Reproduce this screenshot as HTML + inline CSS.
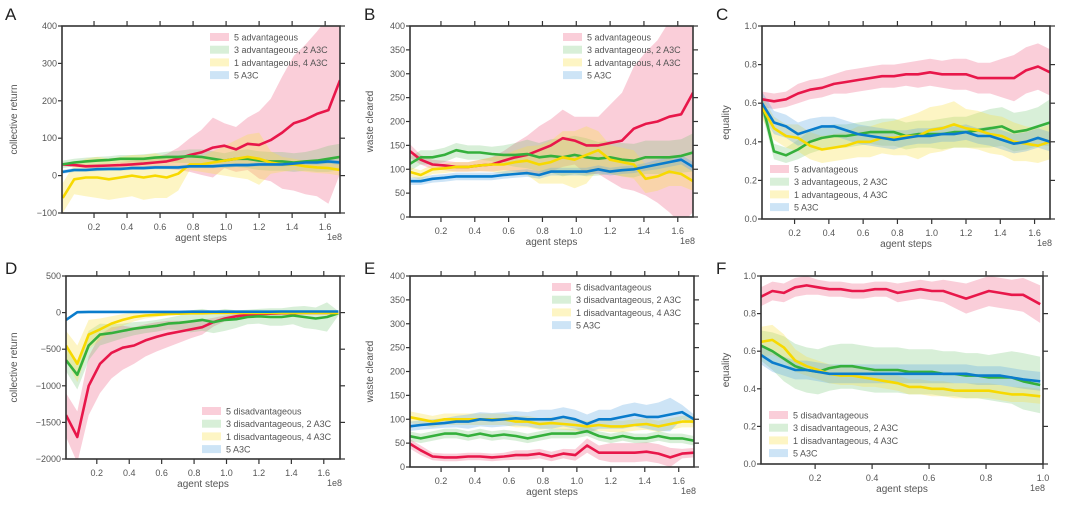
<!DOCTYPE html>
<html><head><meta charset="utf-8">
<style>
body{margin:0;background:#fff;}
svg{display:block;font-family:"Liberation Sans",sans-serif;}
.tk{font-size:9px;fill:#555;}
.lab{font-size:10px;fill:#555;}
.leg{font-size:9px;fill:#555;}
.pl{font-size:17px;fill:#222;}
</style></head><body>
<svg id="fig" width="1080" height="509" viewBox="0 0 1080 509"></svg>
<script>
// ---- data ----
const stepsLong = [0.01,0.08,0.15,0.22,0.29,0.36,0.43,0.50,0.57,0.64,0.71,0.78,0.85,0.92,0.99,1.06,1.13,1.20,1.27,1.34,1.41,1.48,1.55,1.62,1.69];
const stepsShort = [0.01,0.05,0.09,0.13,0.17,0.21,0.25,0.29,0.33,0.37,0.41,0.45,0.49,0.53,0.57,0.61,0.65,0.69,0.73,0.77,0.81,0.85,0.89,0.93,0.99];

const aRed = [30,28,25,26,27,28,30,32,35,38,45,55,62,75,80,70,85,82,95,115,140,150,165,175,255];
const aRedSd = [5,5,5,5,6,8,10,12,15,20,30,45,60,80,60,60,70,90,110,150,180,200,220,250,250];
const aGreen = [30,35,38,40,42,45,45,45,48,50,50,52,50,45,40,45,45,40,38,38,35,38,40,45,50];
const aGreenSd = [10,10,10,10,10,10,10,12,12,14,16,18,20,20,20,22,25,25,25,25,25,25,30,35,35];
const aYellow = [-60,-10,-5,-5,-10,-5,0,-5,0,-5,5,30,30,35,40,45,50,45,35,30,30,25,22,20,15];
const aYellowSd = [40,40,50,55,55,55,55,60,60,55,45,15,20,30,40,50,60,70,30,20,15,15,15,15,15];
const aBlue = [10,15,15,17,18,18,20,20,22,22,22,25,25,25,27,28,28,30,30,30,32,35,35,38,35];
const aBlueSd = [5,5,5,5,5,5,5,5,5,5,5,5,5,5,5,5,5,5,5,5,6,6,6,6,6];

const bRed = [140,120,110,108,105,105,108,110,118,125,130,140,150,165,160,150,150,155,160,185,195,200,210,215,260];
const bRedSd = [15,10,10,10,10,10,12,15,20,30,40,50,55,60,50,60,60,80,100,130,150,170,200,230,250];
const bGreen = [110,125,125,130,140,135,135,132,130,130,132,125,128,125,130,125,122,125,120,118,125,125,125,128,135];
const bGreenSd = [15,15,15,15,15,15,15,15,20,25,30,30,35,40,40,40,35,35,35,35,35,35,35,35,40];
const bYellow = [95,88,100,102,105,105,108,110,110,115,118,110,115,125,120,130,140,120,115,110,80,85,95,90,75];
const bYellowSd = [10,10,10,10,10,10,12,15,20,25,30,40,45,55,60,60,40,30,30,30,30,30,30,25,20];
const bBlue = [75,75,80,82,85,85,85,85,88,90,92,88,95,95,95,95,100,95,98,100,105,110,115,120,105];
const bBlueSd = [8,8,8,8,8,8,8,8,8,8,8,8,8,8,8,8,8,8,8,8,8,10,10,10,10];

const cRed = [.62,.61,.62,.65,.67,.68,.70,.71,.72,.73,.74,.74,.75,.75,.76,.75,.75,.75,.73,.73,.73,.73,.77,.79,.76];
const cRedSd = [.04,.04,.04,.05,.05,.05,.05,.06,.06,.06,.06,.06,.06,.07,.07,.07,.08,.08,.08,.08,.10,.12,.12,.12,.12];
const cGreen = [.60,.35,.33,.36,.40,.42,.43,.43,.44,.45,.45,.45,.43,.44,.44,.44,.45,.45,.46,.47,.48,.45,.46,.48,.50];
const cGreenSd = [.05,.04,.04,.05,.06,.06,.06,.06,.06,.06,.07,.07,.07,.07,.07,.08,.08,.08,.09,.10,.10,.10,.10,.10,.12];
const cYellow = [.58,.47,.43,.42,.38,.36,.37,.38,.40,.40,.42,.42,.43,.43,.46,.47,.49,.47,.46,.44,.43,.40,.39,.38,.40];
const cYellowSd = [.06,.06,.06,.07,.07,.07,.07,.07,.08,.08,.08,.09,.10,.12,.12,.12,.12,.10,.10,.10,.10,.10,.09,.09,.09];
const cBlue = [.60,.50,.48,.44,.46,.48,.48,.46,.44,.43,.42,.41,.42,.43,.43,.44,.44,.45,.43,.43,.41,.39,.40,.42,.40];
const cBlueSd = [.06,.06,.06,.06,.06,.05,.05,.05,.05,.05,.05,.05,.04,.04,.04,.04,.04,.04,.04,.05,.05,.05,.05,.05,.05];

const dRed = [-1400,-1700,-1000,-700,-550,-480,-450,-380,-330,-290,-260,-230,-200,-130,-80,-50,-30,-20,-15,-10,-10,-5,-5,-5,-5];
const dRedSd = [300,350,400,400,350,300,250,220,200,180,150,120,100,60,40,30,20,15,10,10,10,10,10,10,10];
const dGreen = [-650,-850,-450,-300,-280,-250,-220,-200,-180,-150,-140,-120,-100,-130,-100,-90,-60,-50,-60,-60,-40,-60,-80,-60,-10];
const dGreenSd = [150,200,200,150,120,100,90,80,80,80,100,150,150,150,150,120,100,100,120,120,120,150,150,200,30];
const dYellow = [-450,-700,-300,-230,-150,-100,-60,-40,-30,-20,-15,-10,-10,-5,-5,-5,-5,-5,-5,-5,-5,-5,-5,-5,-5];
const dYellowSd = [200,250,200,150,100,80,60,40,30,20,15,10,10,10,10,10,10,10,10,10,10,10,10,10,10];
const dBlue = [-100,5,10,10,10,10,10,10,10,10,10,12,12,12,12,12,12,12,12,15,15,15,15,15,15];
const dBlueSd = [20,10,10,10,10,10,10,10,10,10,10,10,10,10,10,10,10,10,10,10,10,10,10,10,10];

const eRed = [50,35,22,20,20,22,22,20,22,25,25,28,22,28,25,45,30,30,30,30,32,28,20,28,30];
const eRedSd = [10,10,8,8,8,8,8,8,8,10,10,10,10,10,12,15,15,20,20,20,20,20,20,10,10];
const eGreen = [65,60,65,70,70,65,70,65,68,65,60,65,70,70,70,75,65,60,65,60,60,65,60,60,55];
const eGreenSd = [10,10,10,10,10,10,10,10,10,10,10,10,10,10,10,10,10,10,10,10,10,10,10,10,10];
const eYellow = [105,100,95,100,100,100,100,100,100,95,95,90,92,90,88,85,88,85,85,88,90,85,90,95,95];
const eYellowSd = [12,12,12,12,12,12,12,12,12,12,12,12,12,12,12,12,12,12,12,12,12,12,12,12,12];
const eBlue = [85,88,90,92,95,95,100,98,100,102,100,100,100,105,100,90,100,100,105,110,105,105,110,115,100];
const eBlueSd = [10,10,10,10,12,15,15,15,15,15,15,20,20,20,20,20,20,20,25,25,25,30,35,15,10];

const fRed = [.89,.92,.91,.94,.95,.94,.93,.93,.92,.92,.93,.93,.91,.92,.93,.92,.92,.90,.88,.90,.92,.91,.90,.90,.85];
const fRedSd = [.05,.05,.05,.05,.05,.04,.04,.04,.04,.04,.04,.04,.05,.05,.05,.05,.06,.07,.08,.08,.08,.08,.08,.09,.10];
const fGreen = [.63,.60,.56,.52,.50,.49,.51,.52,.52,.51,.50,.50,.50,.49,.49,.49,.48,.48,.47,.47,.46,.46,.46,.44,.42];
const fGreenSd = [.08,.10,.12,.12,.12,.12,.12,.12,.12,.12,.12,.12,.12,.12,.12,.12,.12,.12,.12,.12,.12,.13,.14,.15,.15];
const fYellow = [.65,.66,.62,.55,.52,.50,.48,.47,.47,.46,.45,.44,.43,.41,.41,.40,.40,.39,.39,.39,.39,.38,.37,.37,.36];
const fYellowSd = [.08,.08,.07,.06,.05,.05,.05,.05,.05,.05,.04,.04,.04,.04,.04,.04,.04,.04,.04,.04,.04,.04,.04,.04,.04];
const fBlue = [.58,.54,.52,.50,.50,.49,.48,.48,.48,.48,.48,.48,.48,.48,.48,.48,.48,.48,.48,.47,.47,.47,.46,.45,.44];
const fBlueSd = [.05,.05,.05,.05,.05,.05,.05,.05,.05,.05,.05,.05,.05,.05,.05,.05,.05,.05,.05,.05,.05,.05,.05,.05,.05];

const xTicksLong = [0.2,0.4,0.6,0.8,1.0,1.2,1.4,1.6];
const xTicksShort = [0.2,0.4,0.6,0.8,1.0];
const yTicksA = [-100,0,100,200,300,400];
const yTicksB = [0,50,100,150,200,250,300,350,400];
const yTicksC = [0,0.2,0.4,0.6,0.8,1.0];
const yTicksD = [-2000,-1500,-1000,-500,0,500];
const legAdv = ["5 advantageous","3 advantageous, 2 A3C","1 advantageous, 4 A3C","5 A3C"];
const legDis = ["5 disadvantageous","3 disadvantageous, 2 A3C","1 disadvantageous, 4 A3C","5 A3C"];

// ---- drawing ----
const NS="http://www.w3.org/2000/svg";
const svg=document.getElementById('fig');
function mk(tag,attrs,parent){const e=document.createElementNS(NS,tag);for(const k in attrs)e.setAttribute(k,attrs[k]);(parent||svg).appendChild(e);return e;}
const LINE=['#e8174a','#35b03c','#f7d900','#0a7ccc'];
const FILL=['rgba(236,80,120,0.28)','rgba(100,190,100,0.25)','rgba(250,225,70,0.32)','rgba(90,165,225,0.3)'];
const names=['red','green','yellow','blue'];

function panel(p){
  const g=mk('g',{});
  
  
  const sx=v=>p.x0+(v-p.xd[0])/(p.xd[1]-p.xd[0])*(p.x1-p.x0);
  const sy=v=>p.y1-(v-p.yd[0])/(p.yd[1]-p.yd[0])*(p.y1-p.y0);
  const cid='clip'+p.id;
  const cp=mk('clipPath',{id:cid},g);
  mk('rect',{x:p.x0,y:p.y0,width:p.x1-p.x0,height:p.y1-p.y0},cp);
  const plot=mk('g',{'clip-path':'url(#'+cid+')'},g);
  p.series.forEach((s,i)=>{
    const m=s[0],sd=s[1];
    let up=p.xs.map((x,j)=>sx(x).toFixed(1)+','+sy(m[j]+sd[j]).toFixed(1));
    let lo=p.xs.map((x,j)=>sx(x).toFixed(1)+','+sy(m[j]-sd[j]).toFixed(1)).reverse();
    const band=mk('polygon',{points:up.concat(lo).join(' '),fill:FILL[i],stroke:'none'},plot);
    
    
  });
  p.series.forEach((s,i)=>{
    const m=s[0];
    const ln=mk('polyline',{points:p.xs.map((x,j)=>sx(x).toFixed(1)+','+sy(m[j]).toFixed(1)).join(' '),fill:'none',stroke:LINE[i],'stroke-width':2.6,'stroke-linejoin':'round'},plot);
    
    
  });
  const fr=mk('rect',{x:p.x0,y:p.y0,width:p.x1-p.x0,height:p.y1-p.y0,fill:'none',stroke:'#333','stroke-width':1.6},g);
  
  
  p.xt.forEach(t=>{
    const X=sx(t);
    mk('line',{x1:X,x2:X,y1:p.y0,y2:p.y0-5,stroke:'#333','stroke-width':1.2},g);
    mk('line',{x1:X,x2:X,y1:p.y1,y2:p.y1+5,stroke:'#333','stroke-width':1.2},g);
    const tx=mk('text',{x:X,y:p.y1+17,'text-anchor':'middle',class:'tk'},g);tx.textContent=t.toFixed(1);
    
    
  });
  p.yt.forEach(t=>{
    const Y=sy(t);
    mk('line',{x1:p.x0,x2:p.x0-4,y1:Y,y2:Y,stroke:'#333','stroke-width':1.2},g);
    mk('line',{x1:p.x1,x2:p.x1+5,y1:Y,y2:Y,stroke:'#333','stroke-width':1.2},g);
    const ty=mk('text',{x:p.x0-5,y:Y+3,'text-anchor':'end',class:'tk'},g);
    ty.textContent=p.yfmt(t);
    
    
  });
  const xl=mk('text',{x:(p.x0+p.x1)/2,y:p.y1+28,'text-anchor':'middle',class:'lab'},g);xl.textContent='agent steps';
  
  
  const ex=mk('text',{x:p.x1+2,y:p.y1+27,'text-anchor':'end',class:'tk'},g);ex.textContent='1e8';
  
  
  const yl=mk('text',{x:0,y:0,'text-anchor':'middle',class:'lab',transform:'translate('+(p.ylx)+','+((p.y0+p.y1)/2)+') rotate(-90)'},g);yl.textContent=p.ylab;
  
  
  const pl=mk('text',{x:p.lx,y:p.ly,class:'pl'},g);pl.textContent=p.id;
  
  
  p.leg.forEach((t,i)=>{
    const Y=p.legY+i*12.7;
    const le=mk('g',{},g);
    
    
    mk('rect',{x:p.legX,y:Y-4,width:19,height:8,fill:FILL[i]},le);
    const lt=mk('text',{x:p.legX+24,y:Y+3.5,class:'leg'},le);lt.textContent=t;
  });
}
const f0=v=>String(v).replace('-','\u2212');
const f1=v=>v.toFixed(1);
panel({id:'A',x0:62,x1:340,y0:26,y1:213,xd:[0.006,1.69],yd:[-100,400],xs:stepsLong,xt:xTicksLong,yt:yTicksA,yfmt:f0,ylab:'collective return',ylx:17,lx:5,ly:20,leg:legAdv,legX:210,legY:37,
  series:[[aRed,aRedSd],[aGreen,aGreenSd],[aYellow,aYellowSd],[aBlue,aBlueSd]]});
panel({id:'B',x0:410,x1:693,y0:26,y1:217,xd:[0.017,1.69],yd:[0,400],xs:stepsLong,xt:xTicksLong,yt:yTicksB,yfmt:f0,ylab:'waste cleared',ylx:373,lx:364,ly:20,leg:legAdv,legX:563,legY:37,
  series:[[bRed,bRedSd],[bGreen,bGreenSd],[bYellow,bYellowSd],[bBlue,bBlueSd]]});
panel({id:'C',x0:762,x1:1050,y0:26,y1:219,xd:[0.01,1.69],yd:[0,1],xs:stepsLong,xt:xTicksLong,yt:yTicksC,yfmt:f1,ylab:'equality',ylx:729,lx:716,ly:20,leg:legAdv,legX:770,legY:169,
  series:[[cRed,cRedSd],[cGreen,cGreenSd],[cYellow,cYellowSd],[cBlue,cBlueSd]]});
panel({id:'D',x0:66,x1:340,y0:276,y1:459,xd:[0.01,1.70],yd:[-2000,500],xs:stepsLong,xt:xTicksLong,yt:yTicksD,yfmt:f0,ylab:'collective return',ylx:17,lx:5,ly:274,leg:legDis,legX:202,legY:411,
  series:[[dRed,dRedSd],[dGreen,dGreenSd],[dYellow,dYellowSd],[dBlue,dBlueSd]]});
panel({id:'E',x0:410,x1:694,y0:276,y1:467,xd:[0.017,1.69],yd:[0,400],xs:stepsLong,xt:xTicksLong,yt:yTicksB,yfmt:f0,ylab:'waste cleared',ylx:373,lx:364,ly:274,leg:legDis,legX:552,legY:287,
  series:[[eRed,eRedSd],[eGreen,eGreenSd],[eYellow,eYellowSd],[eBlue,eBlueSd]]});
panel({id:'F',x0:761,x1:1043,y0:276,y1:464,xd:[0.01,1.0],yd:[0,1],xs:stepsShort,xt:xTicksShort,yt:yTicksC,yfmt:f1,ylab:'equality',ylx:729,lx:716,ly:274,leg:legDis,legX:769,legY:415,
  series:[[fRed,fRedSd],[fGreen,fGreenSd],[fYellow,fYellowSd],[fBlue,fBlueSd]]});
</script>
</body></html>
